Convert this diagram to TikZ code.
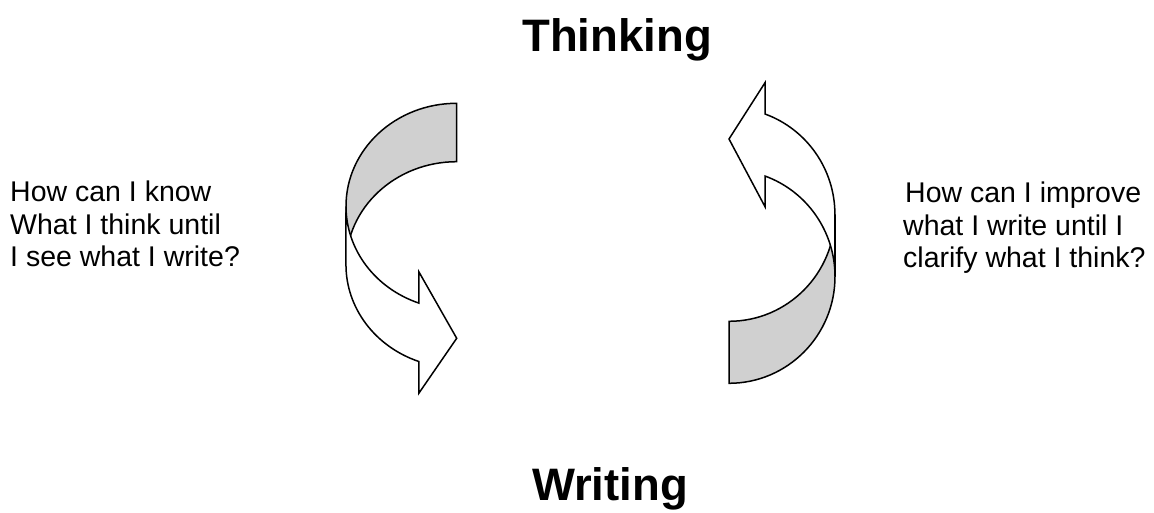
\documentclass[tikz,border=0pt]{standalone}
\usepackage{fontspec}
\setmainfont{Liberation Sans}
\definecolor{bandgray}{RGB}{208,208,208}
\begin{document}
\begin{tikzpicture}[x=1pt,y=1pt,
        band/.style={draw=black, line width=1.5pt, line join=miter},
        backband/.style={band, fill=bandgray},
        frontband/.style={band, fill=white},
        question/.style={inner sep=0pt, align=left, font=\fontsize{28.5}{32.5}\selectfont},
        heading/.style={inner sep=0pt, font=\fontsize{45.5}{50}\selectfont\bfseries}]
    \useasboundingbox (0,0) rectangle (1154,512);
    % left arrow: thinking -> writing
    \draw [backband] (456.7,408.7) arc [start angle=90, end angle=180, x radius=110.7pt, y radius=103pt]
        -- (346,247.3) arc [start angle=180, end angle=90, x radius=110.7pt, y radius=103pt] -- cycle;
    \draw [frontband] (346,305.7) arc [start angle=180, end angle=250, x radius=110.7pt, y radius=103pt]
        -- (418.8,240.3) -- (456.7,173.7) -- (418.8,118.7) -- (418.8,150.5)
        arc [start angle=250, end angle=180, x radius=110.7pt, y radius=103pt] -- cycle;
    % right arrow: writing -> thinking
    \draw [backband] (729,128.7) arc [start angle=270, end angle=360, x radius=106pt, y radius=106.8pt]
        -- (835,297.5) arc [start angle=0, end angle=-90, x radius=106pt, y radius=106.8pt] -- cycle;
    \draw [frontband] (835,235.5) arc [start angle=0, end angle=70.1, x radius=106pt, y radius=106.8pt]
        -- (765,305.3) -- (729,373) -- (765,429.3) -- (765,398)
        arc [start angle=70.1, end angle=0, x radius=106pt, y radius=106.8pt] -- cycle;
    % labels
    \node [heading, anchor=base] (thinking) at (617,460.3) {Thinking};
    \node [heading, anchor=base] (writing) at (610,12) {Writing};
    \node [question, anchor=north west] (knowtext) at (10,331) {How can I know\\What I think until\\I see what I write?};
    \node [question, anchor=north west] (improvetext) at (903,330) {\hspace{2pt}How can I improve\\what I write until I\\clarify what I think?};
\end{tikzpicture}
\end{document}
